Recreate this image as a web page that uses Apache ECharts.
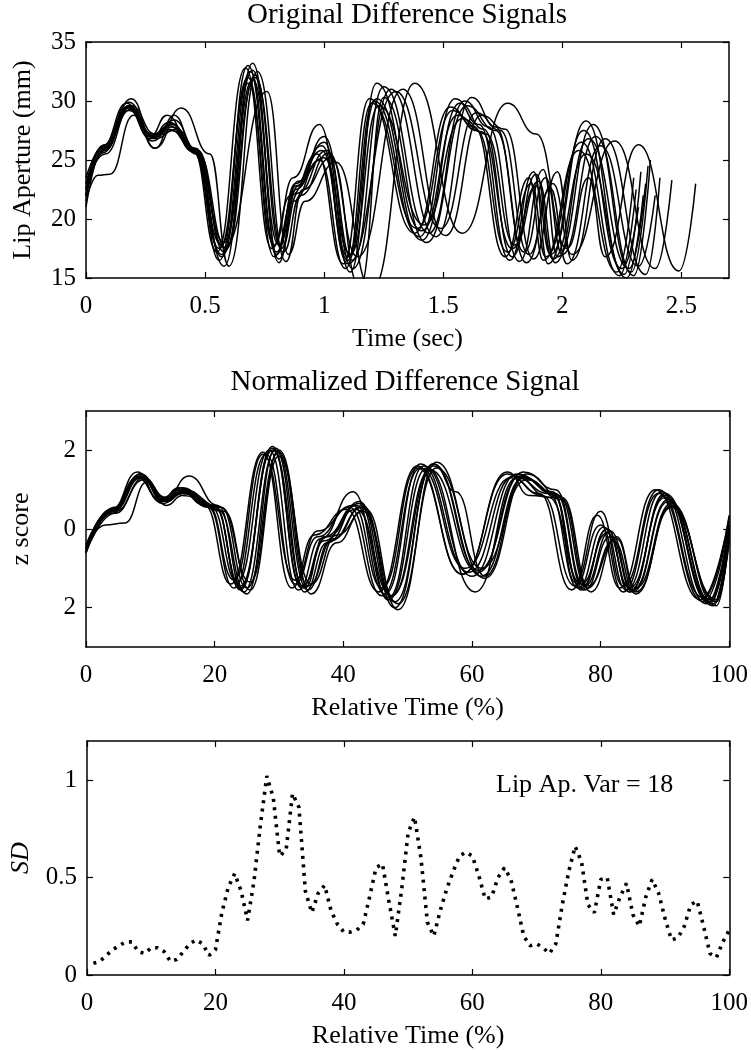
<!DOCTYPE html>
<html><head><meta charset="utf-8">
<script src="https://cdn.jsdelivr.net/npm/echarts@6/dist/echarts.min.js"></script>
<style>html,body{margin:0;padding:0;background:#fff}#c{width:751px;height:1050px}</style>
</head><body><div id="c"></div>
<script>
// ---------- Panel 1: Original Difference Signals (time s, lip aperture mm) ----------
const lipAp01 = [[0,22.5],[0.07,26.2],[0.17,29.8],[0.27,26.8],[0.35,28.2],[0.45,25.8],[0.55,17.2],[0.67,32.8],[0.78,17.5],[0.86,22],[0.97,25.5],[1.08,16.2],[1.19,30.2],[1.38,18.8],[1.53,29.5],[1.63,27.8],[1.76,16.8],[1.86,23.5],[1.92,16.5],[2.07,25.8],[2.23,15.5],[2.30,23.5]];
const lipAp02 = [[0,22],[0.08,25.8],[0.18,29.5],[0.28,27.2],[0.36,27.8],[0.46,25.6],[0.56,16.5],[0.68,32],[0.79,16.8],[0.87,21.5],[0.98,25],[1.09,15.8],[1.20,29.8],[1.39,19.2],[1.54,29.2],[1.64,27.5],[1.77,17.2],[1.87,23],[1.93,16.8],[2.08,26.5],[2.24,15.2],[2.31,22.5]];
const lipAp03 = [[0,23],[0.07,26],[0.18,29.2],[0.28,27],[0.35,27.6],[0.45,26],[0.57,17.8],[0.68,33],[0.80,17.2],[0.88,23],[0.99,26.2],[1.10,16.8],[1.21,30],[1.40,18.5],[1.55,30.2],[1.65,28],[1.78,16.5],[1.88,24],[1.94,16.2],[2.09,27.5],[2.25,15.8],[2.32,21]];
const lipAp04 = [[0,21],[0.08,26.3],[0.19,30.2],[0.29,26],[0.37,28.8],[0.46,25.5],[0.58,16],[0.70,33.2],[0.81,16.3],[0.88,22.5],[1.00,26.5],[1.11,15.5],[1.22,31.5],[1.41,19],[1.56,28.8],[1.66,27.4],[1.79,17.5],[1.89,22.8],[1.95,17],[2.10,28.3],[2.26,15.3],[2.33,24]];
const lipAp05 = [[0,22.5],[0.07,25.6],[0.18,29.6],[0.27,27],[0.35,27.9],[0.45,25.8],[0.57,17],[0.69,32.5],[0.80,17],[0.88,22.8],[0.99,25.8],[1.10,16.5],[1.22,30.2],[1.41,18.2],[1.57,29.8],[1.67,27.6],[1.79,16.8],[1.89,23.8],[1.96,16.6],[2.10,25.5],[2.27,15],[2.34,22]];
const lipAp06 = [[0,22],[0.08,26],[0.18,29.4],[0.28,26.6],[0.36,28],[0.46,26],[0.58,18],[0.70,31.8],[0.81,17.8],[0.89,23.2],[1.00,25.2],[1.11,17],[1.23,29.6],[1.42,19.5],[1.58,28.5],[1.68,27.2],[1.80,17.8],[1.90,23.2],[1.97,16.3],[2.11,26.8],[2.28,15.8],[2.35,23]];
const lipAp07 = [[0,23],[0.08,25.5],[0.19,29.6],[0.29,27.2],[0.37,28.4],[0.47,25.6],[0.59,17.5],[0.71,32.2],[0.82,17.5],[0.89,22.2],[1.01,25.8],[1.12,16.5],[1.25,31.2],[1.44,18.8],[1.59,30],[1.69,27.8],[1.82,16.4],[1.92,24.2],[1.98,16.8],[2.13,28],[2.29,15.5],[2.36,24.5]];
const lipAp08 = [[0,22],[0.07,26.1],[0.18,29.9],[0.28,26.9],[0.36,27.5],[0.46,25.9],[0.57,16.8],[0.70,32.6],[0.81,16.6],[0.89,22.8],[1.00,27],[1.12,15.8],[1.28,31],[1.47,18.5],[1.62,30.3],[1.72,27.8],[1.84,17.2],[1.93,23.5],[2.00,17],[2.14,27],[2.30,15.2],[2.37,25]];
const lipAp09 = [[0,22.5],[0.08,25.8],[0.17,29.5],[0.27,27],[0.34,28.8],[0.45,25.7],[0.56,17.5],[0.68,31.5],[0.79,17.8],[0.87,23.5],[0.98,28],[1.10,16.2],[1.30,30.8],[1.49,19.2],[1.64,29],[1.74,27.5],[1.86,17],[1.95,22.6],[2.02,16.2],[2.16,26.2],[2.32,16],[2.39,22]];
const lipAp10 = [[0,23.5],[0.08,26.3],[0.19,29.3],[0.29,26.8],[0.38,27.6],[0.47,25.8],[0.58,17.2],[0.71,32],[0.83,17.2],[0.90,22],[1.02,25.6],[1.14,16.8],[1.33,31],[1.51,18.6],[1.66,28.8],[1.76,27.6],[1.88,16.6],[1.98,24],[2.04,16.5],[2.18,26.8],[2.35,15.3],[2.41,23.5]];
const lipAp11 = [[0,21.5],[0.05,23.7],[0.10,23.8],[0.20,28.8],[0.29,26],[0.40,29.4],[0.52,25.5],[0.60,16],[0.72,32.5],[0.84,16.4],[0.91,22.5],[1.03,25.2],[1.15,14.2],[1.25,30.3],[1.43,18],[1.60,29.6],[1.72,27.5],[1.85,16.3],[1.96,23],[2.04,17],[2.22,26.6],[2.39,15.8],[2.46,23.3]];
const lipAp12 = [[0,22],[0.08,25.9],[0.18,29.6],[0.28,27.1],[0.36,28.1],[0.46,25.7],[0.58,17.6],[0.76,30.8],[0.85,17],[0.92,21.5],[1.05,24.8],[1.20,14],[1.38,31.5],[1.58,18.8],[1.77,29.8],[1.89,27.2],[2.02,17.5],[2.11,23.5],[2.18,16.8],[2.32,26.3],[2.49,15.6],[2.56,23]];

// ---------- Panel 2: Normalized Difference Signal (relative time %, z score) ----------
const zSig01 = [[0,-0.5],[4,0.5],[8,1.3],[11.5,0.75],[14.5,1.0],[18.5,0.6],[22.5,-1.4],[27.5,1.95],[32,-1.5],[35.5,-0.15],[40.5,0.5],[45.5,-1.6],[51.5,1.6],[58.5,-1.15],[65.5,1.4],[70.5,0.9],[75.5,-1.55],[79.5,0.35],[83,-1.5],[88.5,1.0],[95.5,-1.8],[100,0.3]];
const zSig02 = [[0,-0.6],[4,0.45],[8.5,1.35],[12,0.7],[15,0.95],[19,0.55],[23,-1.5],[28,1.9],[32.5,-1.4],[36,-0.2],[41,0.55],[46,-1.7],[52,1.55],[59,-1.0],[66,1.3],[71,0.85],[76,-1.45],[80,0.1],[83.5,-1.6],[89,0.9],[96,-1.85],[100,0.2]];
const zSig03 = [[0,-0.4],[4.5,0.55],[8.5,1.4],[12,0.8],[15,1.05],[19.5,0.55],[23.5,-1.35],[28.5,2.0],[33,-1.55],[36.5,-0.25],[41.5,0.95],[46.5,-1.65],[52,1.65],[59.5,-1.1],[66.5,1.35],[72,0.9],[76.5,-1.5],[80.5,0.05],[84,-1.55],[89.5,0.95],[96.5,-1.9],[100,0.1]];
const zSig04 = [[0,-0.5],[4,0.4],[8.5,1.3],[12.5,0.7],[15.5,1.0],[20,0.6],[24,-1.55],[29,2.05],[33.5,-1.5],[37,-0.3],[42,0.6],[47,-1.75],[52.5,1.6],[60,-1.2],[67,1.4],[72.5,0.95],[77,-1.55],[81,0.0],[84.5,-1.6],[90,0.85],[97,-1.9],[100,0.05]];
const zSig05 = [[0,-0.6],[4,0.5],[8.5,1.35],[12,0.75],[15,0.9],[20,0.55],[24,-1.45],[29,2.1],[33.5,-1.45],[37.5,-0.2],[42.5,0.65],[47,-1.8],[53,1.55],[60.5,-1.6],[67,1.3],[72,0.8],[77,-1.4],[81,-0.1],[84.5,-1.5],[90,0.8],[97,-1.85],[100,0.0]];
const zSig06 = [[0,-0.5],[4.5,0.45],[9,1.25],[12.5,0.8],[16,1.35],[20.5,0.6],[24.5,-1.6],[29.5,2.0],[34,-1.6],[37.5,-0.35],[42.5,0.7],[47.5,-1.7],[53.5,1.5],[61,-1.1],[67.5,1.35],[73,0.9],[77.5,-1.55],[81.5,-0.2],[85,-1.6],[90.5,0.7],[97.5,-1.95],[100,-0.1]];
const zSig07 = [[0,-0.45],[4,0.5],[8.5,1.4],[12,0.7],[15,1.0],[20.5,0.5],[25,-1.65],[29.5,2.05],[34.5,-1.55],[38,-0.3],[43,0.55],[48,-2.0],[54,1.65],[61,-1.05],[68,1.45],[73,1.0],[77.5,-1.45],[81.5,-0.05],[85,-1.55],[90.5,0.75],[97.5,-1.9],[100,0.0]];
const zSig08 = [[0,-0.6],[4.5,0.4],[9,1.3],[12.5,0.75],[15.5,0.95],[21,0.55],[25,-1.5],[30,1.95],[34.5,-1.45],[38.5,-0.25],[43,0.6],[48,-1.85],[54,1.6],[61.5,-1.2],[68,1.3],[73.5,0.85],[78,-1.5],[82,-0.3],[85.5,-1.65],[91,0.6],[98,-1.85],[100,-0.2]];
const zSig09 = [[0,-0.5],[3,0.1],[6,0.15],[9.5,1.2],[12.5,0.6],[15,0.85],[21.5,0.45],[25.5,-1.55],[30,1.85],[35,-1.4],[39,-0.15],[43.5,0.5],[48.5,-2.05],[54.5,1.7],[61.5,-1.0],[68.5,1.25],[74,0.75],[78,-1.45],[82.5,-0.25],[85.5,-1.6],[91,0.55],[98,-1.8],[100,-0.3]];
const zSig10 = [[0,-0.55],[4,0.45],[8,1.3],[12,0.65],[15,0.9],[21,0.55],[25.5,-1.35],[30,2.0],[35,-1.65],[39,-0.35],[43,0.45],[48.5,-1.9],[54.5,1.55],[62,-1.25],[68.5,1.4],[74,0.8],[78.5,-1.6],[82.5,-0.2],[85.5,-1.5],[91,0.65],[98,-1.95],[100,-0.1]];
const zSig11 = [[0,-0.5],[4,0.5],[8,1.45],[11.5,0.7],[14.5,1.05],[19,0.6],[23,-1.3],[27.5,1.9],[32.5,-1.3],[36,-0.05],[41.5,0.6],[46,-1.5],[51.5,1.55],[58.5,-1.15],[65.5,1.45],[69,0.85],[73,0.8],[76,-1.35],[80,0.45],[83.5,-1.45],[89,1.0],[96,-1.75],[100,0.35]];
const zSig12 = [[0,-0.6],[4.5,0.5],[8.5,1.3],[12,0.75],[15,0.95],[20,0.6],[24,-1.5],[29,2.0],[34,-1.5],[37,-0.2],[42,0.5],[47.5,-1.7],[54,1.65],[57.5,0.95],[62,-1.2],[68,1.3],[72.5,0.9],[77,-1.5],[81,0.0],[84.5,-1.6],[90,0.9],[97,-1.8],[100,0.1]];

// ---------- Panel 3: SD across repetitions ----------
const sdTime = [1,2,3,4,5,6,7,8,9,10,11,12,13,14,15,16,17,18,19,20,21,22,23,24,25,26,27,28,29,30,31,32,33,34,35,36,37,38,39,40,41,42,43,44,45,46,47,48,49,50,51,52,53,54,55,56,57,58,59,60,61,62,63,64,65,66,67,68,69,70,71,72,73,74,75,76,77,78,79,80,81,82,83,84,85,86,87,88,89,90,91,92,93,94,95,96,97,98,99,100];
const sdValues = [0.06,0.07,0.10,0.13,0.15,0.17,0.17,0.12,0.11,0.14,0.14,0.12,0.07,0.08,0.12,0.16,0.18,0.16,0.10,0.13,0.32,0.45,0.52,0.43,0.28,0.48,0.77,1.02,0.91,0.61,0.64,0.93,0.86,0.43,0.32,0.42,0.46,0.33,0.26,0.22,0.22,0.23,0.26,0.40,0.55,0.57,0.38,0.20,0.44,0.73,0.81,0.60,0.27,0.20,0.33,0.44,0.53,0.61,0.63,0.61,0.51,0.39,0.40,0.50,0.55,0.49,0.35,0.20,0.15,0.16,0.14,0.11,0.16,0.36,0.53,0.66,0.58,0.36,0.32,0.49,0.50,0.31,0.40,0.47,0.31,0.25,0.40,0.49,0.42,0.29,0.18,0.19,0.25,0.36,0.38,0.25,0.11,0.09,0.17,0.23];

// ---------- Tick values ----------
const timeTicks = [0,0.5,1,1.5,2,2.5];
const lipTicks = [15,20,25,30,35];
const relTicks = [0,20,40,60,80,100];
const zTicks = [-2,0,2];
const sdTicks = [0,0.5,1];

const FONT = '"Liberation Serif","Times New Roman",serif';
const BLACK = '#000';

const grids = [
  {left:86, top:42, width:643, height:236},
  {left:85, top:411, width:647, height:236},
  {left:83, top:741, width:650, height:236}
];

function xAx(gi, min, max, ticks, name, mirror){
  return {
    type:'value', gridIndex:gi, min:min, max:max, position: mirror?'top':'bottom',
    name: mirror?'':name, nameLocation:'middle', nameGap:48,
    nameTextStyle:{fontFamily:FONT, fontSize:26, color:BLACK},
    axisLine:{show:true, onZero:false, lineStyle:{color:BLACK, width:1.5}},
    axisTick:{show:true, inside:true, length:6, customValues:ticks, lineStyle:{color:BLACK, width:1.2}},
    axisLabel:{show:!mirror, customValues:ticks, margin:16, fontFamily:FONT, fontSize:25, color:BLACK},
    splitLine:{show:false}
  };
}
function yAx(gi, min, max, ticks, name, mirror, fmt, nameStyle, gap){
  return {
    type:'value', gridIndex:gi, min:min, max:max, position: mirror?'right':'left',
    name: mirror?'':name, nameLocation:'middle', nameGap: gap || 50,
    nameTextStyle:Object.assign({fontFamily:FONT, fontSize:26, color:BLACK}, nameStyle||{}),
    axisLine:{show:true, onZero:false, lineStyle:{color:BLACK, width:1.5}},
    axisTick:{show:true, inside:true, length:6, customValues:ticks, lineStyle:{color:BLACK, width:1.2}},
    axisLabel:{show:!mirror, customValues:ticks, margin:10, fontFamily:FONT, fontSize:25, color:BLACK, formatter: fmt},
    splitLine:{show:false}
  };
}

const xAxes = [
  xAx(0,0,2.7,timeTicks,'Time (sec)',false),
  xAx(0,0,2.7,timeTicks,'',true),
  xAx(1,0,100,relTicks,'Relative Time (%)',false),
  xAx(1,0,100,relTicks,'',true),
  xAx(2,0,100,relTicks,'Relative Time (%)',false),
  xAx(2,0,100,relTicks,'',true)
];
const yAxes = [
  yAx(0,15,35,lipTicks,'Lip Aperture (mm)',false),
  yAx(0,15,35,lipTicks,'',true),
  yAx(1,-3,3,zTicks,'z score',false, v => String(Math.abs(v)), null, 52),
  yAx(1,-3,3,zTicks,'',true),
  yAx(2,0,1.2,sdTicks,'SD',false, null, {fontStyle:'italic'}, 53),
  yAx(2,0,1.2,sdTicks,'',true)
];

const lipCurves = [lipAp01,lipAp02,lipAp03,lipAp04,lipAp05,lipAp06,lipAp07,lipAp08,lipAp09,lipAp10,lipAp11,lipAp12];
const zCurves = [zSig01,zSig02,zSig03,zSig04,zSig05,zSig06,zSig07,zSig08,zSig09,zSig10,zSig11,zSig12];

const series = [];
lipCurves.forEach((d,i) => series.push({
  type:'line', xAxisIndex:0, yAxisIndex:0, data:d, showSymbol:false, smooth:0.5, smoothMonotone:'x',
  lineStyle:{color:BLACK, width:1.5}, clip:true, silent:true
}));
zCurves.forEach((d,i) => series.push({
  type:'line', xAxisIndex:2, yAxisIndex:2, data:d, showSymbol:false, smooth:0.5, smoothMonotone:'x',
  lineStyle:{color:BLACK, width:1.5}, clip:true, silent:true
}));
series.push({
  type:'line', xAxisIndex:4, yAxisIndex:4, data: sdTime.map((t,i)=>[t, sdValues[i]]), showSymbol:false,
  lineStyle:{color:BLACK, width:3.6, type:[3,5.5], cap:'butt'}, silent:true
});

const chart = echarts.init(document.getElementById('c'), null, {renderer:'canvas'});
chart.setOption({
  animation:false,
  backgroundColor:'#fff',
  title:[
    {text:'Original Difference Signals', left:407, top:1, textAlign:'center', padding:0,
     textStyle:{fontFamily:FONT, fontSize:29, fontWeight:'normal', color:BLACK}},
    {text:'Normalized Difference Signal', left:405, top:368, textAlign:'center', padding:0,
     textStyle:{fontFamily:FONT, fontSize:29, fontWeight:'normal', color:BLACK}}
  ],
  graphic:[
    {type:'text', left:496, top:772, style:{text:'Lip Ap. Var = 18', font:'26px '+FONT, fill:BLACK}}
  ],
  grid: grids,
  xAxis: xAxes,
  yAxis: yAxes,
  series: series
});
</script></body></html>
